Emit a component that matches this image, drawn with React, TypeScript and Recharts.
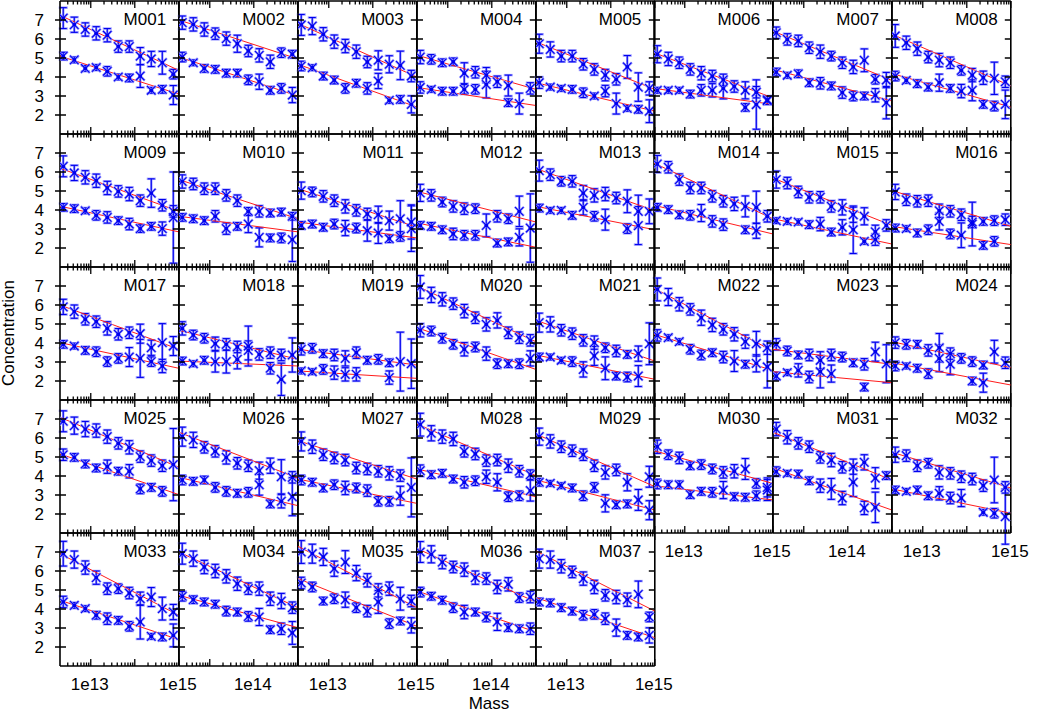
import { ComposedChart, ErrorBar, Scatter, XAxis, YAxis } from "recharts"

const panelNames = [
  "M001", "M002", "M003", "M004", "M005", "M006", "M007", "M008",
  "M009", "M010", "M011", "M012", "M013", "M014", "M015", "M016",
  "M017", "M018", "M019", "M020", "M021", "M022", "M023", "M024",
  "M025", "M026", "M027", "M028", "M029", "M030", "M031", "M032",
  "M033", "M034", "M035", "M036", "M037",
]

// bin centres (0.25 dex bins)
const massBins = [2.37e12, 4.22e12, 7.5e12, 1.33e13, 2.37e13, 4.22e13, 7.5e13, 1.33e14, 2.37e14, 4.22e14, 7.5e14]
const fitMass = [2e12, 1e15]

type V = number | null

const upperConc: V[][] = [
  [7.1, 6.75, 6.5, 6.3, 6.2, 5.6, 5.6, 5.1, 4.95, 4.75, 4.15],
  [6.86, 6.77, 6.5, 6.28, 6.02, 5.75, 5.37, 5.14, 4.8, 5.28, 5.2],
  [6.74, 6.68, 6.25, 5.86, 5.63, 5.33, 4.79, 4.88, 4.67, 4.61, 4.05],
  [5.05, 4.93, 4.75, 4.8, 4.2, 4.25, 4.1, 3.75, 3.55, null, 3.4],
  [5.75, 5.45, 5.1, 5.1, 4.67, 4.4, 4.1, 3.88, 4.53, 3.47, 3.4],
  [5.2, 4.95, 4.75, 4.4, 4.2, 4.05, 3.85, 3.5, 3.3, 3.2, 2.8],
  [6.33, 5.98, 5.9, 5.54, 5.33, 5.1, 4.75, 4.53, 4.88, 3.88, 3.84],
  [6.16, 5.8, 5.49, 5.05, 4.89, 4.75, 4.35, 4.1, 3.96, 3.93, 3.75],
  [6.3, 5.95, 5.72, 5.54, 5.16, 4.98, 4.84, 4.49, 4.89, 4.25, 3.93],
  [5.5, 5.37, 5.12, 5.12, 4.77, 4.49, 3.93, 3.93, 3.84, 3.89, 3.67],
  [5.02, 4.95, 4.72, 4.49, 4.19, 3.98, 3.79, 3.75, 3.44, 3.54, 3.37],
  [4.9, 4.77, 4.42, 4.19, 4.07, 4.07, 3.19, 3.67, 3.54, 3.93, null],
  [6.07, 5.86, 5.51, 5.51, 4.89, 4.77, 4.84, 4.63, 4.46, 3.93, 3.93],
  [6.42, 6.25, 5.6, 5.16, 5.16, 4.72, 4.46, 4.32, 4.19, 4.14, 3.67],
  [5.6, 5.42, 4.95, 4.67, 4.67, 4.19, 4.14, 3.75, 3.67, 2.85, 3.19],
  [4.95, 4.54, 4.46, 4.49, 3.96, 3.93, 3.75, 3.37, 3.4, 3.44, 3.49],
  [5.9, 5.65, 5.25, 5.12, 4.77, 4.46, 4.54, 4.49, 3.75, 4.02, 3.84],
  [4.77, 4.42, 4.25, 3.96, 3.93, 3.79, 3.84, 3.4, 3.49, 3.37, 3.37],
  [3.67, 3.72, 3.44, 3.37, 3.19, 3.49, 3.09, 3.14, 2.96, 3.02, 2.91],
  [6.95, 6.53, 6.3, 6.07, 5.68, 5.33, 4.98, 5.19, 4.54, 4.28, 4.14],
  [5.07, 4.98, 4.67, 4.49, 4.14, 4.02, 3.75, 3.58, 3.4, 3.44, 3.96],
  [6.82, 6.42, 6.04, 5.77, 5.33, 4.95, 4.72, 4.46, 4.07, 3.96, 3.75],
  [3.93, 3.58, 3.37, 3.37, 3.09, 3.37, 3.26, 2.96, 2.88, 3.54, 2.91],
  [4.02, 3.93, 3.93, 3.61, 3.75, 3.44, 3.19, 3.02, 2.84, 3.54, 2.96],
  [6.88, 6.65, 6.47, 6.39, 6.07, 5.72, 5.51, 5.02, 4.81, 4.54, 4.6],
  [6.07, 5.9, 5.51, 5.3, 4.98, 4.67, 4.54, 4.28, 4.54, 3.96, 3.93],
  [5.82, 5.54, 5.12, 4.95, 4.84, 4.42, 4.37, 4.25, 4.14, 4.02, 3.4],
  [6.7, 6.25, 6.07, 5.95, 5.3, 5.16, 4.81, 4.84, 4.54, 4.25, 4.07],
  [6.07, 5.82, 5.54, 5.33, 5.12, 4.54, 4.19, 4.32, 3.67, null, 3.96],
  [5.54, 5.12, 4.95, 4.54, 4.6, 4.37, 4.19, 4.25, 4.37, 3.61, 3.4],
  [6.47, 6.04, 5.72, 5.54, 4.98, 4.84, 4.46, 4.49, 4.72, 3.89, 4.02],
  [5.12, 5.07, 4.54, 4.67, 4.19, 4.14, 3.96, 3.84, 3.49, 3.79, 3.4],
  [6.91, 6.6, 6.18, 5.65, 5.07, 5.07, 4.84, 4.54, 4.63, 4.02, 3.84],
  [6.91, 6.65, 6.21, 6.0, 5.72, 5.33, 5.07, 5.07, 4.54, 4.42, 4.07],
  [7.0, 6.91, 6.74, 6.12, 6.47, 5.89, 5.51, 4.98, 5.07, 4.54, 4.42],
  [7.0, 6.88, 6.47, 6.21, 6.07, 5.65, 5.6, 5.16, 5.3, 4.6, 4.63],
  [6.65, 6.6, 6.25, 5.95, 5.6, 5.16, 4.72, 4.63, 4.49, 4.77, 3.58],
]

const upperErr: number[][] = [
  [.55, .4, .35, .35, .35, .3, .3, .45, .4, .6, .25],
  [.35, .35, .35, .3, .35, .45, .3, .35, .35, .25, .2],
  [.55, .45, .35, .35, .35, .35, .3, .5, .45, .75, .3],
  [.35, .25, .2, .2, .55, .3, .4, .3, .55, 0, .3],
  [.5, .4, .3, .3, .3, .3, .3, .3, .6, .75, .35],
  [.45, .35, .3, .3, .35, .3, .3, .3, .45, .3, .2],
  [.3, .3, .3, .3, .35, .25, .3, .35, .6, .25, .4],
  [.6, .35, .35, .3, .35, .3, .25, .35, .35, .85, .3],
  [.55, .4, .35, .35, .35, .3, .35, .3, .75, .3, .3],
  [.35, .3, .3, .3, .3, .3, .2, .3, .2, .2, .2],
  [.45, .25, .3, .3, .35, .3, .3, .45, .5, .95, .9],
  [.45, .3, .25, .3, .3, .25, .6, .3, .25, .8, 0],
  [.55, .3, .25, .3, .4, .35, .35, .3, .6, .85, .65],
  [.45, .3, .3, .3, .3, .3, .3, .35, .55, .85, .3],
  [.45, .3, .3, .3, .3, .3, .4, .4, .45, .35, .3],
  [.4, .3, .3, .3, .35, .3, .3, .3, .2, .25, .3],
  [.4, .35, .3, .3, .35, .3, .3, .5, .4, 1.0, .5],
  [.35, .25, .25, .35, .3, .3, 1.05, .3, .3, .3, .9],
  [.3, .25, .2, .3, .4, .3, .2, .25, .2, 1.55, 1.3],
  [.6, .4, .35, .3, .35, .3, .35, .4, .3, .3, .3],
  [.5, .4, .3, .3, .3, .35, .25, .3, .2, .4, 1.1],
  [.6, .45, .35, .3, .4, .35, .3, .35, .35, .65, .35],
  [.3, .25, .2, .3, .45, .3, .25, .2, .3, .5, 1.0],
  [.3, .25, .2, .3, .75, .3, .25, .25, .2, .6, .3],
  [.55, .45, .4, .35, .35, .3, .35, .3, .3, .3, 1.9],
  [.5, .4, .3, .3, .35, .3, .3, .45, .4, .9, .3],
  [.5, .35, .3, .3, .3, .3, .3, .3, .35, .3, 1.55],
  [.6, .4, .35, .35, .3, .3, .3, .3, .35, .3, .25],
  [.45, .35, .3, .3, .3, .3, .35, .3, .45, 0, .55],
  [.35, .25, .3, .2, .25, .25, .3, .35, .55, .25, .5],
  [.35, .35, .3, .3, .3, .35, .3, .4, .4, .55, .2],
  [.4, .3, .3, .25, .35, .3, .3, .3, .3, 1.2, .3],
  [.65, .45, .35, .35, .3, .25, .3, .35, .5, .6, .4],
  [.55, .4, .35, .35, .35, .35, .3, .35, .35, .4, .3],
  [.6, .5, .45, .4, .6, .4, .35, .35, .35, .6, .3],
  [.55, .45, .35, .3, .35, .35, .3, .35, .35, .25, .3],
  [.5, .45, .35, .3, .35, .35, .3, .35, .35, .7, .25],
]

const lowerConc: V[][] = [
  [5.1, 4.9, 4.45, 4.5, 4.3, 4.0, 3.95, 4.05, 3.3, 3.35, 3.05],
  [5.05, 4.75, 4.45, 4.4, 4.2, 4.2, 3.85, 3.75, 3.3, 3.4, 3.05],
  [4.58, 4.49, 4.05, 3.84, 3.4, 3.67, 3.4, 3.79, 2.77, 2.82, 2.56],
  [3.45, 3.35, 3.25, 3.25, 3.35, 3.35, 3.6, null, 2.65, 2.6, null],
  [3.7, 3.47, 3.4, 3.35, 3.17, 3.0, 3.26, 2.6, 2.35, 2.3, 2.2],
  [3.3, 3.3, 3.3, 3.1, 3.3, 3.3, 3.4, null, 2.4, 2.55, 2.75],
  [4.26, 4.09, 4.17, 3.7, 3.67, 3.53, 3.18, 3.0, 3.0, 3.04, 2.65],
  [4.05, 3.82, 3.65, 3.47, 3.7, 3.4, 3.26, 3.3, 2.56, 2.47, 2.56],
  [4.14, 4.07, 3.96, 3.72, 3.61, 3.44, 3.26, 3.02, 3.14, 3.02, 3.6],
  [3.61, 3.54, 3.44, 3.67, 3.02, 3.14, 3.26, 2.56, 2.53, 2.53, 2.44],
  [3.19, 3.26, 3.09, 3.26, 3.05, 3.05, 2.91, 2.79, 2.49, 2.61, 3.02],
  [3.19, 3.14, 2.96, 2.74, 2.67, 2.67, null, 2.26, 2.32, 2.56, 3.05],
  [4.1, 3.98, 3.98, 3.72, 4.14, 3.67, 3.49, null, 3.02, 3.18, null],
  [4.14, 4.02, 3.75, 3.72, 3.84, 3.4, 3.23, null, 2.96, 2.91, null],
  [3.44, 3.4, 3.37, 3.23, 3.26, 2.84, 3.09, 2.96, 2.35, 2.44, null],
  [3.05, 3.02, 2.79, 2.96, 3.4, 2.74, 2.67, 3.26, 2.14, 2.35, null],
  [3.93, 3.84, 3.61, 3.54, 3.02, 3.19, 3.26, 3.19, 3.02, 2.79, null],
  [3.05, 2.91, 3.09, 3.02, 3.02, 3.14, 3.61, null, 2.67, 2.09, null],
  [2.53, 2.49, 2.61, 2.44, 2.35, 2.35, null, null, 2.18, null, null],
  [4.67, 4.63, 4.25, 3.93, 3.67, 3.79, 3.44, 2.91, 2.91, 2.91, 3.19],
  [3.26, 3.26, 3.09, 3.02, 2.61, 3.32, 2.67, 2.26, 2.21, 2.26, null],
  [4.4, 4.28, 4.07, 3.67, 3.37, 3.49, 3.26, 3.05, 2.88, 2.93, 2.74],
  [2.26, 2.44, 2.56, 2.21, 2.49, 2.39, null, null, 1.68, null, null],
  [2.79, 2.79, 2.67, 2.39, 3.19, 2.88, null, 2.0, 1.91, null, null],
  [5.12, 4.98, 4.63, 4.42, 4.49, 4.25, 4.25, 3.32, 3.4, 3.19, null],
  [3.79, 3.72, 3.79, 3.4, 3.19, 3.09, 3.14, 3.54, 2.53, 2.67, 2.91],
  [3.79, 3.67, 3.37, 3.54, 3.37, 3.37, 3.23, 2.67, 2.67, 2.96, null],
  [4.28, 4.07, 4.14, 3.84, 3.67, 3.75, 3.96, 3.67, 2.91, 2.96, 3.23],
  [3.67, 3.61, 3.49, 3.37, 2.96, 3.4, 2.56, 2.49, 2.53, 2.74, 2.2],
  [3.58, 3.54, 3.54, 3.02, 3.19, 3.14, 3.26, 2.91, 2.88, 2.96, 3.26],
  [4.23, 4.14, 4.1, 3.75, 3.49, 3.32, 2.84, 3.67, 2.32, 2.35, null],
  [3.26, 3.19, 3.26, 2.96, 3.09, 2.84, 2.84, null, 2.09, 2.04, 1.86],
  [4.37, 4.19, 4.02, 3.67, 3.49, 3.4, 3.09, 3.32, 2.56, 2.53, 2.61],
  [4.67, 4.49, 4.37, 4.25, 3.89, 3.84, 3.61, 3.58, 2.91, 2.96, 2.74],
  [5.37, 5.16, 4.42, 4.54, 4.49, 4.07, 3.89, 4.37, 3.23, 3.37, 3.14],
  [4.89, 4.67, 4.46, 4.07, 3.84, 3.84, 3.58, 3.32, 3.02, 2.96, 2.96],
  [4.37, 4.32, 4.07, 3.89, 3.67, 3.72, 3.49, 3.02, 2.61, 2.53, 2.61],
]

const lowerErr: number[][] = [
  [.2, .15, .15, .15, .25, .15, .2, .6, .15, .2, .5],
  [.25, .15, .2, .2, .2, .2, .25, .4, .2, .25, .4],
  [.25, .15, .2, .2, .25, .2, .3, .4, .15, .2, .45],
  [.3, .15, .2, .2, .25, .25, .7, 0, .2, .55, 0],
  [.3, .15, .15, .2, .25, .15, .3, .55, .15, .2, .6],
  [.15, .15, .15, .2, .3, .35, .55, 0, .2, 1.3, .2],
  [.2, .15, .2, .2, .3, .2, .3, .25, .2, .35, .85],
  [.25, .15, .2, .2, .45, .2, .35, .55, .2, .25, .75],
  [.2, .2, .15, .25, .3, .2, .3, .2, .2, .35, 2.4],
  [.2, .2, .2, .3, .3, .2, .45, .5, .2, .25, 1.15],
  [.2, .2, .2, .25, .4, .25, .55, .55, .2, .25, 1.2],
  [.2, .2, .2, .3, .25, .25, 0, .2, .2, .45, 1.8],
  [.2, .15, .15, .2, .4, .25, .55, 0, .25, 1.0, 0],
  [.2, .2, .2, .25, .45, .3, .3, 0, .2, .4, 0],
  [.15, .15, .15, .2, .35, .2, .4, 1.25, .15, .3, 0],
  [.2, .15, .2, .25, .45, .25, .65, 1.15, .2, .25, 0],
  [.2, .15, .2, .25, .25, .25, .5, 1.0, .25, .35, 0],
  [.2, .15, .2, .55, .6, .5, .5, 0, .3, .85, 0],
  [.15, .15, .25, .35, .35, .35, 0, 0, .35, 0, 0],
  [.35, .25, .25, .25, .35, .25, .35, .25, .2, .25, .4],
  [.2, .15, .15, .25, .4, .5, .6, .2, .25, .55, 0],
  [.3, .15, .15, .25, .25, .2, .3, .55, .2, .45, 1.1],
  [.2, .15, .35, .3, .85, .45, 0, 0, .2, 0, 0],
  [.25, .15, .2, .25, .7, .55, 0, .2, .5, 0, 0],
  [.3, .2, .2, .2, .35, .2, .35, .25, .2, .25, 0],
  [.25, .2, .2, .25, .25, .2, .25, .55, .2, .35, 1.0],
  [.25, .2, .2, .25, .35, .25, .3, .25, .25, .5, 0],
  [.3, .2, .2, .2, .3, .25, .35, .45, .25, .25, .55],
  [.2, .15, .15, .2, .25, .25, .45, .2, .2, .55, .5],
  [.25, .2, .2, .2, .2, .25, .45, .2, .2, .25, .55],
  [.25, .15, .2, .2, .35, .55, .35, .75, .35, .8, 0],
  [.2, .15, .2, .2, .35, .3, .45, 0, .15, .25, 1.45],
  [.3, .15, .15, .2, .3, .2, .25, .9, .15, .2, .6],
  [.25, .2, .2, .2, .25, .2, .25, .45, .2, .3, .6],
  [.3, .25, .2, .25, .4, .25, .3, .6, .25, .2, .4],
  [.25, .2, .2, .25, .35, .2, .25, .45, .2, .2, .3],
  [.2, .2, .2, .2, .25, .25, .3, .45, .2, .2, .4],
]

// fitted relation, value at 2e12 and at 1e15
const upperFit = [
  [7.25, 4.35], [7.0, 4.95], [6.82, 4.0], [5.15, 3.35], [5.85, 3.35], [5.28, 2.9], [6.42, 3.82], [6.25, 3.53],
  [6.2, 3.93], [5.6, 3.54], [5.12, 3.1], [4.98, 3.37], [6.18, 3.96], [6.47, 3.54], [5.68, 3.19], [5.02, 3.14],
  [6.0, 3.67], [4.67, 3.14], [3.67, 2.84], [7.0, 4.07], [5.19, 3.05], [6.88, 3.58], [3.67, 2.88], [4.07, 2.7],
  [7.09, 4.46], [6.3, 3.89], [5.86, 3.84], [6.74, 4.02], [6.21, 3.44], [5.33, 3.61], [6.3, 3.79], [5.25, 3.37],
  [6.91, 3.67], [7.0, 4.07], [7.3, 4.07], [7.18, 4.37], [7.05, 3.89],
]
const lowerFit = [
  [5.1, 3.1], [5.05, 3.0], [4.67, 2.42], [3.45, 2.5], [3.7, 2.2], [3.4, 2.56], [4.4, 2.74], [4.18, 2.42],
  [4.2, 2.85], [3.67, 2.85], [3.37, 2.53], [3.32, 2.04], [4.19, 2.96], [4.25, 2.74], [3.54, 2.21], [3.14, 2.18],
  [4.02, 2.67], [3.05, 2.79], [2.53, 2.14], [4.81, 2.61], [3.37, 2.09], [4.46, 2.56], [2.49, 1.91], [2.96, 1.79],
  [5.16, 3.02], [3.93, 2.44], [3.84, 2.56], [4.37, 2.91], [3.79, 2.21], [3.49, 2.74], [4.42, 2.21], [3.32, 2.04],
  [4.46, 2.39], [4.72, 3.02], [5.6, 3.09], [4.95, 2.79], [4.6, 2.49],
]

const massTicks = [
  3e12, 4e12, 5e12, 6e12, 7e12, 8e12, 9e12, 1e13,
  2e13, 3e13, 4e13, 5e13, 6e13, 7e13, 8e13, 9e13, 1e14,
  2e14, 3e14, 4e14, 5e14, 6e14, 7e14, 8e14, 9e14, 1e15,
]
const majorMass = [1e13, 1e14, 1e15]
const concTicks = [2, 3, 4, 5, 6, 7]

const bottomLabels: Record<string, number[]> = {
  M030: [1e13, 1e15], M031: [1e14], M032: [1e13, 1e15],
  M033: [1e13, 1e15], M034: [1e14], M035: [1e13, 1e15], M036: [1e14], M037: [1e13, 1e15],
}

const X0 = 60.3
const Y0 = 0.5
const PW = 118.8
const PH = 133
// outer space around each plot; each axis takes 1px of it
const OUT = { top: 8, right: 30, bottom: 32, left: 42 }
const M = { top: OUT.top - 1, right: OUT.right - 1, bottom: OUT.bottom - 1, left: OUT.left - 1 }

const DARK = "#0000ee"
const LIGHT = "#9a9aff"
const FONT = 17
const axisLine = { stroke: "#000", strokeWidth: 1.6 }

function pts(vals: V[], errs: number[]) {
  return massBins
    .map((x, k) => ({ x, y: vals[k], e: errs[k] }))
    .filter((d) => d.y != null)
}

const DarkStar = (p: any) => {
  const { cx, cy } = p
  if (cx == null || cy == null) return <g />
  const s = 4.2
  return (
    <g stroke={DARK} strokeWidth={1.1}>
      <line x1={cx - s} y1={cy - s} x2={cx + s} y2={cy + s} />
      <line x1={cx - s} y1={cy + s} x2={cx + s} y2={cy - s} />
      <circle cx={cx} cy={cy} r={1.9} fill={DARK} stroke="none" />
    </g>
  )
}

const LightStar = (p: any) => {
  const { cx, cy } = p
  if (cx == null || cy == null) return <g />
  const s = 4.6
  return (
    <g stroke={LIGHT} strokeWidth={2.4}>
      <line x1={cx - s} y1={cy - s} x2={cx + s} y2={cy + s} />
      <line x1={cx - s} y1={cy + s} x2={cx + s} y2={cy - s} />
    </g>
  )
}

const NoShape = () => <g />

function Panel({ i }: { i: number }) {
  const name = panelNames[i]
  const row = Math.floor(i / 8)
  const col = i % 8
  const left = X0 + col * PW
  const top = Y0 + row * PH
  const labels = bottomLabels[name] || []
  const firstCol = col === 0

  const upper = pts(upperConc[i], upperErr[i])
  const lower = pts(lowerConc[i], lowerErr[i])
  const fitU = fitMass.map((x, k) => ({ x, y: upperFit[i][k] }))
  const fitL = fitMass.map((x, k) => ({ x, y: lowerFit[i][k] }))

  const bottomTick = (p: any) => {
    const { x, y, payload } = p
    const v = payload.value
    const len = majorMass.includes(v) ? 7 : 3.5
    return (
      <g>
        <line x1={x} x2={x} y1={y} y2={y - len} stroke="#000" strokeWidth={1.3} />
        {labels.includes(v) && (
          <text x={x - 1} y={y + 24.5} textAnchor="middle" fontSize={FONT} fill="#000">
            {"1e" + Math.round(Math.log10(v))}
          </text>
        )}
      </g>
    )
  }
  const topTick = (p: any) => {
    const { x, y, payload } = p
    const len = majorMass.includes(payload.value) ? 7 : 3.5
    return <line x1={x} x2={x} y1={y} y2={y + len} stroke="#000" strokeWidth={1.3} />
  }
  const leftTick = (p: any) => {
    const { x, y, payload } = p
    return (
      <g>
        <line x1={firstCol ? x - 5 : x} x2={x + 6} y1={y} y2={y} stroke="#000" strokeWidth={1.5} />
        {firstCol && (
          <text x={x - 16} y={y + 6} textAnchor="end" fontSize={FONT} fill="#000">
            {payload.value}
          </text>
        )}
      </g>
    )
  }
  const rightTick = (p: any) => {
    const { x, y } = p
    return <line x1={x - 6} x2={x} y1={y} y2={y} stroke="#000" strokeWidth={1.5} />
  }

  const xCommon = {
    dataKey: "x",
    type: "number" as const,
    scale: "log" as const,
    domain: [2e12, 1e15],
    allowDataOverflow: true,
    ticks: massTicks,
    interval: 0,
    height: 1,
    tickSize: 0,
    tickMargin: 0,
    tickLine: false,
    axisLine,
  }
  const yCommon = {
    dataKey: "y",
    type: "number" as const,
    domain: [1, 8],
    allowDataOverflow: true,
    ticks: concTicks,
    interval: 0,
    width: 1,
    tickSize: 0,
    tickMargin: 0,
    tickLine: false,
    axisLine,
  }

  return (
    <div style={{ position: "absolute", left: left - OUT.left, top: top - OUT.top }}>
      <ComposedChart width={PW + OUT.left + OUT.right} height={PH + OUT.top + OUT.bottom} margin={M}>
        <XAxis xAxisId="b" orientation="bottom" {...xCommon} tick={bottomTick} />
        <XAxis xAxisId="t" orientation="top" {...xCommon} tick={topTick} />
        <YAxis yAxisId="l" orientation="left" {...yCommon} tick={leftTick} />
        <YAxis yAxisId="r" orientation="right" {...yCommon} tick={rightTick} />

        <Scatter xAxisId="b" yAxisId="l" data={fitU} line={{ stroke: "#ff1a1a", strokeWidth: 1 }} shape={NoShape} isAnimationActive={false} />
        <Scatter xAxisId="b" yAxisId="l" data={fitL} line={{ stroke: "#ff1a1a", strokeWidth: 1 }} shape={NoShape} isAnimationActive={false} />

        <Scatter xAxisId="b" yAxisId="l" data={upper} shape={LightStar} isAnimationActive={false}>
          <ErrorBar dataKey="e" direction="y" width={4.5} stroke={LIGHT} strokeWidth={2.4} isAnimationActive={false} />
        </Scatter>
        <Scatter xAxisId="b" yAxisId="l" data={lower} shape={LightStar} isAnimationActive={false}>
          <ErrorBar dataKey="e" direction="y" width={4.5} stroke={LIGHT} strokeWidth={2.4} isAnimationActive={false} />
        </Scatter>
        <Scatter xAxisId="b" yAxisId="l" data={upper} shape={DarkStar} isAnimationActive={false}>
          <ErrorBar dataKey="e" direction="y" width={3.5} stroke={DARK} strokeWidth={1.1} isAnimationActive={false} />
        </Scatter>
        <Scatter xAxisId="b" yAxisId="l" data={lower} shape={DarkStar} isAnimationActive={false}>
          <ErrorBar dataKey="e" direction="y" width={3.5} stroke={DARK} strokeWidth={1.1} isAnimationActive={false} />
        </Scatter>
      </ComposedChart>
      <div
        style={{
          position: "absolute",
          left: OUT.left,
          top: OUT.top + 9,
          width: PW - 13,
          textAlign: "right",
          fontSize: FONT,
          lineHeight: "20px",
          pointerEvents: "none",
        }}
      >
        {name}
      </div>
    </div>
  )
}

export default function App() {
  return (
    <div
      style={{
        position: "absolute",
        left: 0,
        top: 0,
        width: 1038,
        height: 726,
        overflow: "hidden",
        background: "#fff",
        fontFamily: '"Liberation Sans", Arial, sans-serif',
        color: "#000",
      }}
    >
      {panelNames.map((n, i) => (
        <Panel key={n} i={i} />
      ))}
      <div
        style={{
          position: "absolute",
          left: 8.5 - 80,
          top: 333 - 10,
          width: 160,
          height: 20,
          lineHeight: "20px",
          textAlign: "center",
          fontSize: FONT,
          transform: "rotate(-90deg)",
        }}
      >
        Concentration
      </div>
      <div
        style={{
          position: "absolute",
          left: 489 - 50,
          top: 694,
          width: 100,
          lineHeight: "20px",
          textAlign: "center",
          fontSize: FONT,
        }}
      >
        Mass
      </div>
    </div>
  )
}
